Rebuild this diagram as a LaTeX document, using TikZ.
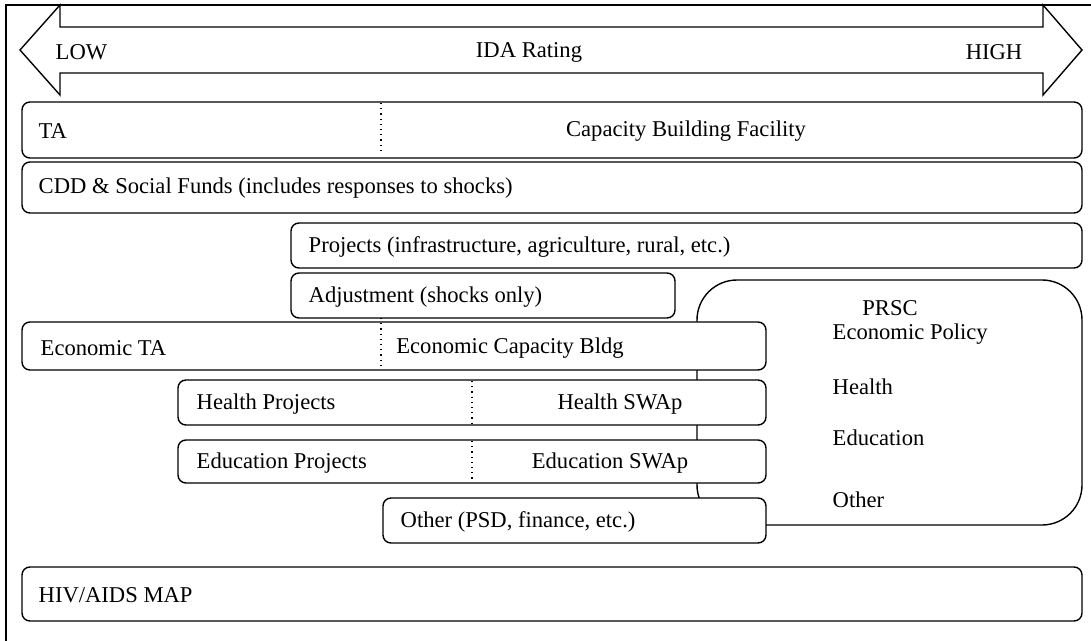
\documentclass[tikz,border=0pt]{standalone}
\usepackage{fontspec}
\setmainfont{Liberation Serif}
\begin{document}
\begin{tikzpicture}[
  x=0.5pt, y=-0.5pt,
  line width=0.7pt,
  bar/.style={draw, fill=white, rounded corners=4pt},
  bigbar/.style={draw, fill=white, rounded corners=20pt},
  split/.style={dotted, line width=0.6pt},
  every node/.style={font=\fontsize{11.3pt}{13pt}\selectfont, inner sep=0pt},
  lbl/.style={anchor=west}
]
  \useasboundingbox (0,0) rectangle (1091,641);
  % frame
  \draw (6,641) -- (6,5) -- (1091,5);
  % rating arrow
  \draw (20,50) -- (60,5) -- (60,27) -- (1043,27) -- (1043,5) -- (1082,50)
    -- (1043,95) -- (1043,73) -- (60,73) -- (60,95) -- cycle;
  \node[lbl] (low) at (55,52) {LOW};
  \node (rating) at (529,52) {IDA Rating};
  \node (high) at (994,52) {HIGH};

  % PRSC block behind the bars
  \draw[bigbar] (697,280) rectangle (1082,525);
  \node (prsc) at (890,308) {PRSC};
  \node[lbl] (prscecon) at (832,334) {Economic Policy};
  \node[lbl] (prschealth) at (832,387) {Health};
  \node[lbl] (prscedu) at (832,438) {Education};
  \node[lbl] (prscother) at (832,500) {Other};

  % bars
  \draw[bar] (22,102) rectangle (1082,158);
  \draw[split] (381,103) -- (381,150);
  \node[lbl] (ta) at (38,131) {TA};
  \node (cbf) at (686,131) {Capacity Building Facility};

  \draw[bar] (22,162) rectangle (1082,213);
  \node[lbl] (cdd) at (38,188) {CDD \& Social Funds (includes responses to shocks)};

  \draw[bar] (291,223) rectangle (1082,268);
  \node[lbl] (proj) at (308,247) {Projects (infrastructure, agriculture, rural, etc.)};

  \draw[bar] (291,273) rectangle (675,318);
  \node[lbl] (adj) at (308,297) {Adjustment (shocks only)};

  \draw[bar] (22,322) rectangle (766,370);
  \draw[split] (381,318) -- (381,368);
  \node[lbl] (ecota) at (40,348) {Economic TA};
  \node (ecocb) at (510,348) {Economic Capacity Bldg};

  \draw[bar] (178,380) rectangle (766,425);
  \draw[split] (472,381) -- (472,424);
  \node[lbl] (healthproj) at (196,404) {Health Projects};
  \node (healthswap) at (620,404) {Health SWAp};

  \draw[bar] (178,440) rectangle (766,483);
  \draw[split] (472,441) -- (472,482);
  \node[lbl] (eduproj) at (196,463) {Education Projects};
  \node (eduswap) at (610,463) {Education SWAp};

  \draw[bar] (383,498) rectangle (766,543);
  \node[lbl] (other) at (400,522) {Other (PSD, finance, etc.)};

  \draw[bar] (22,567) rectangle (1082,621);
  \node[lbl] (hiv) at (38,595) {HIV/AIDS MAP};
\end{tikzpicture}
\end{document}
